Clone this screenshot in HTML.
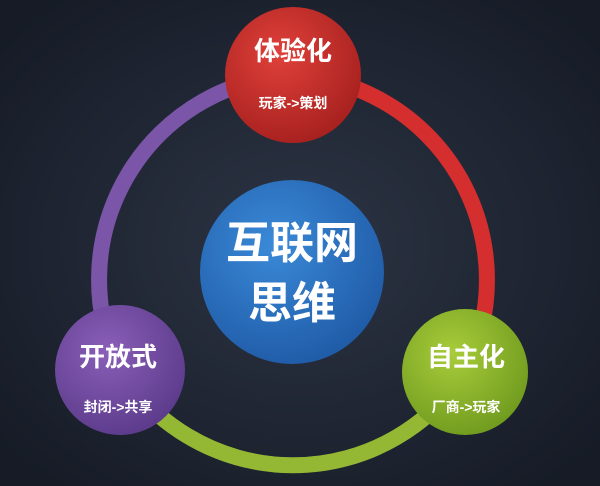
<!DOCTYPE html>
<html><head><meta charset="utf-8"><style>
html,body{margin:0;padding:0;width:600px;height:486px;overflow:hidden;background:#1b2130;}
svg{display:block}
text{font-family:"Liberation Sans","Noto Sans CJK SC",sans-serif;font-weight:bold;fill:#fff;text-anchor:middle}
</style></head><body>
<svg width="600" height="486" viewBox="0 0 600 486">
<defs>
<radialGradient id="bg" cx="50%" cy="50%" r="65%"><stop offset="0" stop-color="#2c3444"/><stop offset="1" stop-color="#161b26"/></radialGradient>
<radialGradient id="gb" cx="40%" cy="35%" r="70%"><stop offset="0" stop-color="#3a8ad8"/><stop offset="1" stop-color="#1f5aa6"/></radialGradient>
<radialGradient id="gr" cx="40%" cy="35%" r="70%"><stop offset="0" stop-color="#e0403a"/><stop offset="1" stop-color="#a5201e"/></radialGradient>
<radialGradient id="gp" cx="40%" cy="35%" r="70%"><stop offset="0" stop-color="#8a5fb8"/><stop offset="1" stop-color="#5b3a8a"/></radialGradient>
<radialGradient id="gg" cx="40%" cy="35%" r="70%"><stop offset="0" stop-color="#a8cc3a"/><stop offset="1" stop-color="#6f9a1e"/></radialGradient>
</defs>
<rect width="600" height="486" fill="url(#bg)"/>
<g fill="none" stroke-width="16">
<path d="M120 370 A205 205 0 0 1 293 75" stroke="#7b55a8"/>
<path d="M293 75 A205 205 0 0 1 465 372" stroke="#d42e2e"/>
<path d="M465 372 A205 205 0 0 1 120 370" stroke="#95b834"/>
</g>
<circle cx="292" cy="272" r="92" fill="url(#gb)"/>
<circle cx="293" cy="75" r="68" fill="url(#gr)"/>
<circle cx="120" cy="370" r="65" fill="url(#gp)"/>
<circle cx="465" cy="372" r="63" fill="url(#gg)"/>
<text x="292" y="258" font-size="44">互联网</text>
<text x="292" y="318" font-size="44">思维</text>
<text x="293" y="60" font-size="26">体验化</text>
<text x="293" y="108" font-size="14">玩家-&gt;策划</text>
<text x="118" y="366" font-size="26">开放式</text>
<text x="118" y="412" font-size="14">封闭-&gt;共享</text>
<text x="466" y="366" font-size="26">自主化</text>
<text x="466" y="412" font-size="14">厂商-&gt;玩家</text>
</svg>
</body></html>
